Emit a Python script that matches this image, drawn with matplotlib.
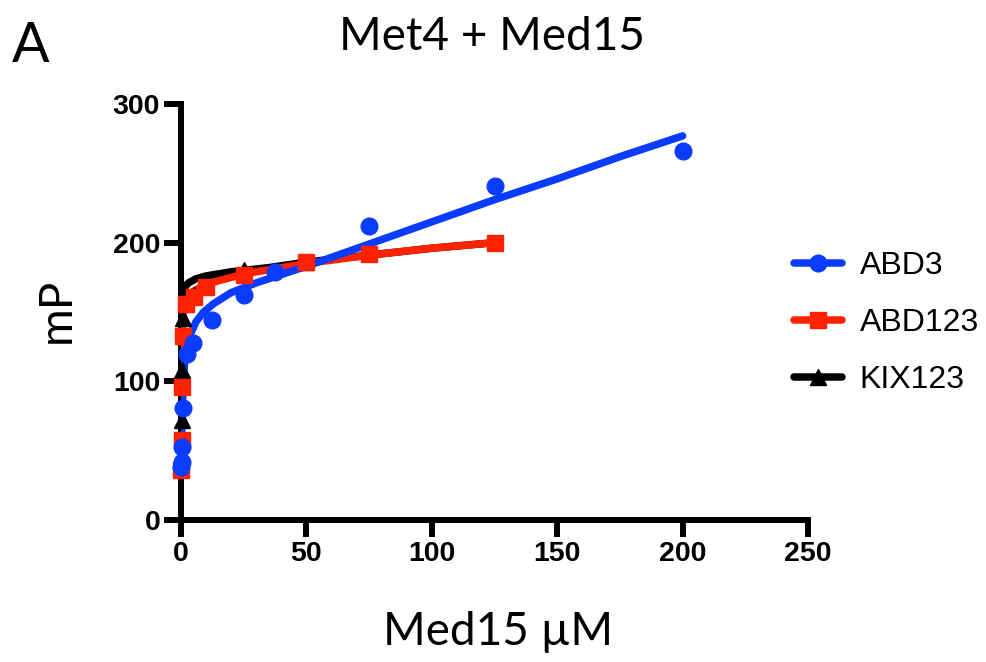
import matplotlib

matplotlib.use("Agg")
import matplotlib.pyplot as plt
from matplotlib.lines import Line2D

# measured points (Med15 uM, mP)
abd3_x = [0.1, 0.2, 0.4, 0.8, 2.3, 4.7, 12.5, 25, 37.5, 75, 125, 200]
abd3_y = [38, 42, 53, 81, 120, 128, 144, 162, 179, 212, 241, 266]

abd123_x = [0.1, 0.2, 0.4, 0.8, 2, 5, 10, 25, 50, 75, 125]
abd123_y = [36, 58, 96, 133, 156, 161, 168, 177, 186, 192, 200]

kix123_x = [0.1, 0.2, 0.4, 0.8, 2, 5, 10, 25, 50]
kix123_y = [40, 72, 108, 146, 158, 162, 169, 180, 186]

# fitted curves
abd3_fit_x = [0, 0.2, 0.5, 1, 1.6, 2.5, 4, 6, 9, 13, 20, 30, 40, 50, 75, 100, 125, 150, 175, 200]
abd3_fit_y = [35, 55, 80, 103, 117, 126, 135, 143, 150, 156, 164, 171, 177, 183, 199, 215, 231, 246, 262, 277]

abd123_fit_x = [0, 0.1, 0.3, 0.6, 1, 1.6, 3, 5, 8, 12, 20, 30, 50, 75, 100, 125]
abd123_fit_y = [35, 70, 115, 140, 150, 156, 161, 165, 168, 171, 175, 179, 185, 191, 196, 200]

kix123_fit_x = [0, 0.1, 0.2, 0.4, 0.8, 1.5, 3, 6, 10, 20, 35, 50, 75, 100, 125]
kix123_fit_y = [35, 90, 125, 150, 163, 168, 171, 174, 176, 179, 182, 186, 191, 196, 200]

x_ticks = [0, 50, 100, 150, 200, 250]
y_ticks = [0, 100, 200, 300]

BLUE = "#0a3cff"
RED = "#ff2200"
BLACK = "#000000"

label_font = ["Lato", "DejaVu Sans"]
tick_font = "Liberation Sans"

fig = plt.figure(figsize=(9.86, 6.62), dpi=100)
ax = fig.add_axes([181 / 986, 1 - 520 / 662, 627 / 986, 416 / 662])

lw = 5.4
ms = 12
ax.plot(kix123_fit_x, kix123_fit_y, color=BLACK, lw=lw, solid_capstyle="round", zorder=2)
ax.plot(abd123_fit_x, abd123_fit_y, color=RED, lw=lw, solid_capstyle="round", zorder=3)
ax.plot(abd3_fit_x, abd3_fit_y, color=BLUE, lw=lw, solid_capstyle="round", zorder=4)

ax.plot(kix123_x, kix123_y, ls="none", marker="^", ms=ms, color=BLACK, zorder=5, clip_on=False)
ax.plot(abd123_x, abd123_y, ls="none", marker="s", ms=ms, color=RED, zorder=6, clip_on=False)
ax.plot(abd3_x, abd3_y, ls="none", marker="o", ms=ms, color=BLUE, zorder=7, clip_on=False)

ax.set_xlim(0, 250)
ax.set_ylim(0, 300)
ax.set_xticks(x_ticks)
ax.set_yticks(y_ticks)

for side in ["top", "right"]:
    ax.spines[side].set_visible(False)
for side in ["left", "bottom"]:
    ax.spines[side].set_linewidth(4.3)
    ax.spines[side].set_capstyle("projecting")
ax.tick_params(width=4.3, length=12, direction="out", pad=3)
for lab in ax.get_xticklabels() + ax.get_yticklabels():
    lab.set_fontfamily(tick_font)
    lab.set_fontweight("bold")
    lab.set_fontsize(20.5)

fig.text(492 / 986, 1 - 50 / 662, "Met4 + Med15", ha="center", va="baseline",
         fontsize=33, family=label_font)
fig.text(12 / 986, 1 - 62 / 662, "A", ha="left", va="baseline", fontsize=40, family=label_font)
fig.text(498 / 986, 1 - 645 / 662, "Med15 µM", ha="center", va="baseline",
         fontsize=33, family=label_font)
fig.text(78 / 986, 1 - 310 / 662, "mP", ha="right", va="center", rotation=90,
         fontsize=33, family=label_font)

handles = [
    Line2D([], [], color=BLUE, lw=lw, marker="o", ms=ms, solid_capstyle="round"),
    Line2D([], [], color=RED, lw=lw, marker="s", ms=ms, solid_capstyle="round"),
    Line2D([], [], color=BLACK, lw=lw, marker="^", ms=ms, solid_capstyle="round"),
]
ax.legend(handles, ["ABD3", "ABD123", "KIX123"], loc="center left",
          bbox_to_anchor=(778 / 986, 1 - 323 / 662), bbox_transform=fig.transFigure,
          frameon=False, handlelength=1.5, handletextpad=0.55, labelspacing=0.85,
          borderpad=0, prop={"family": tick_font, "size": 23})

fig.savefig("out.png", dpi=100)
plt.close(fig)
